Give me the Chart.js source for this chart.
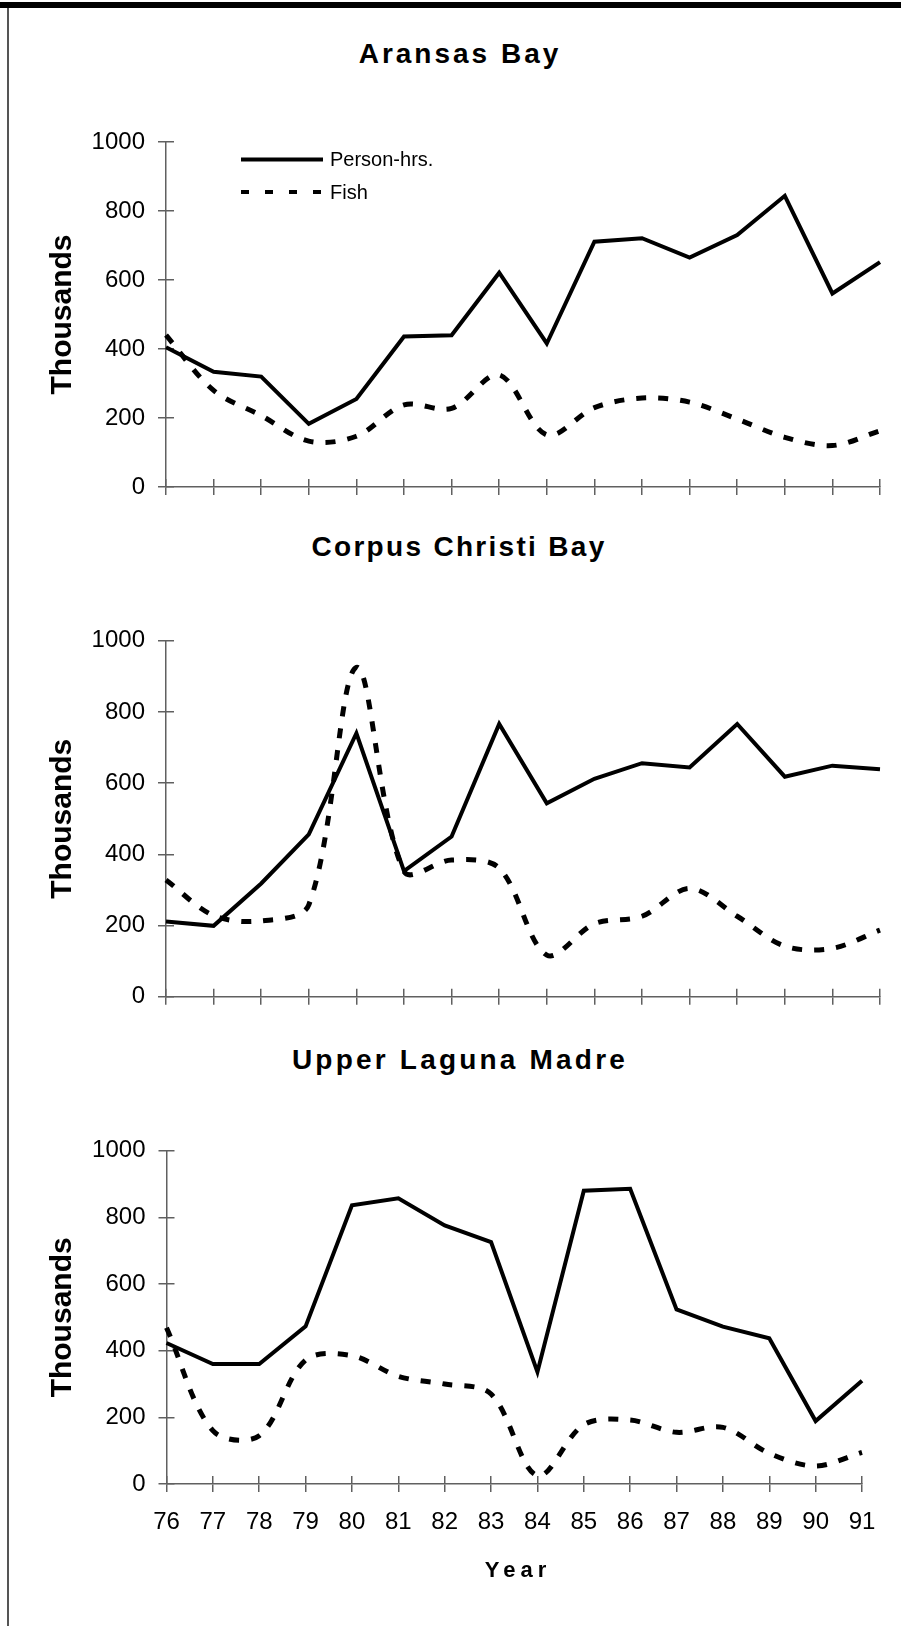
<!DOCTYPE html>
<html>
<head>
<meta charset="utf-8">
<script src="https://cdn.jsdelivr.net/npm/chart.js@4.4.1/dist/chart.umd.min.js"></script>
<style>
html, body { margin: 0; padding: 0; background: #fff; }
body { width: 901px; height: 1626px; position: relative; overflow: hidden; font-family: "Liberation Sans", Arial, sans-serif; }
.rule-top { position: absolute; left: 0; top: 2px; width: 901px; height: 6px; background: #000; }
.rule-left { position: absolute; left: 7px; top: 8px; width: 2px; height: 1618px; background: #555; }
.title { position: absolute; left: 0; width: 914px; text-align: center; font-weight: bold; font-size: 28px; line-height: 28px; color: #000; white-space: nowrap; }
.xtitle { position: absolute; left: 0; width: 1026px; text-align: center; font-weight: bold; font-size: 22px; line-height: 22px; letter-spacing: 5px; padding-left: 5px; color: #000; }
canvas { position: absolute; left: 0; }
</style>
</head>
<body>
<div class="rule-top"></div>
<div class="rule-left"></div>

<div class="title" style="top:40px; letter-spacing:3px; padding-left:3px;">Aransas Bay</div>
<canvas id="c1" width="901" height="420" style="top:100px"></canvas>

<div class="title" style="top:533px; letter-spacing:2.3px; padding-left:2px;">Corpus Christi Bay</div>
<canvas id="c2" width="901" height="520" style="top:520px"></canvas>

<div class="title" style="top:1046px; letter-spacing:3.2px; padding-left:3px;">Upper Laguna Madre</div>
<canvas id="c3" width="901" height="586" style="top:1040px"></canvas>
<div class="xtitle" style="top:1559px;">Year</div>

<script>
// years on the x axis
var years = ['76', '77', '78', '79', '80', '81', '82', '83', '84', '85', '86', '87', '88', '89', '90', '91']
var yTickValues = [0, 200, 400, 600, 800, 1000]

// thousands
var aransasHours = [405, 334, 320, 183, 255, 436, 440, 621, 416, 711, 721, 665, 730, 844, 561, 652]
var aransasFish  = [440, 280, 207, 133, 147, 238, 228, 325, 151, 230, 258, 246, 197, 144, 120, 163]

var corpusHours = [211, 199, 318, 456, 740, 353, 450, 766, 543, 612, 656, 644, 766, 618, 649, 639]
var corpusFish  = [328, 228, 213, 258, 925, 352, 384, 361, 117, 205, 226, 304, 226, 142, 136, 187]

var lagunaHours = [423, 360, 360, 473, 836, 857, 776, 726, 336, 880, 886, 524, 472, 437, 189, 310]
var lagunaFish  = [469, 160, 145, 372, 385, 323, 300, 270, 25, 178, 192, 155, 170, 92, 54, 95]

var AXIS = '#606060'
Chart.defaults.font.family = '"Liberation Sans", Arial, sans-serif'
Chart.defaults.color = '#000'

// legend drawn inside the plot, like the original
var plotLegend = {
  id: 'plotLegend',
  afterDatasetsDraw: function(chart) {
    var ctx = chart.ctx
    var area = chart.chartArea
    var rows = [17.5, 50]
    chart.data.datasets.forEach(function(ds, i) {
      var y = area.top + rows[i]
      var x0 = area.left + 75
      var x1 = area.left + 157
      ctx.save()
      ctx.strokeStyle = ds.borderColor
      ctx.lineWidth = 4
      ctx.setLineDash(ds.borderDash ? [8, 16] : [])
      ctx.beginPath()
      ctx.moveTo(x0, y)
      ctx.lineTo(x1, y)
      ctx.stroke()
      ctx.setLineDash([])
      ctx.fillStyle = '#000'
      ctx.font = '20px "Liberation Sans", Arial, sans-serif'
      ctx.textBaseline = 'middle'
      ctx.fillText(ds.label, x1 + 7, y + 1)
      ctx.restore()
    })
  }
}

function setTicks(scale) {
  scale.ticks = yTickValues.map(function(v) { return {value: v} })
}

var createChart = function(id, hours, fish, pad, xHeight, withLegend) {
  return new Chart(document.getElementById(id), {
    type: 'line',
    data: {
      labels: years,
      datasets: [{
        label: 'Person-hrs.',
        data: hours,
        borderColor: '#000',
        borderWidth: 4,
        borderJoinStyle: 'miter',
        pointRadius: 0,
        tension: 0,
        fill: false,
        clip: false
      }, {
        label: 'Fish',
        data: fish,
        borderColor: '#000',
        borderWidth: 5,
        borderDash: [10, 12],
        pointRadius: 0,
        tension: 0.33,
        fill: false,
        clip: false
      }]
    },
    plugins: withLegend ? [plotLegend] : [],
    options: {
      responsive: false,
      animation: false,
      events: [],
      layout: { padding: pad },
      plugins: {
        legend: { display: false },
        tooltip: { enabled: false }
      },
      scales: {
        x: {
          type: 'category',
          position: 'bottom',
          weight: 1,
          offset: false,
          border: { display: true, color: AXIS, width: 1.5 },
          grid: { drawOnChartArea: false, drawTicks: true, tickLength: 8, color: AXIS, lineWidth: 1.5 },
          ticks: { display: xHeight > 0, autoSkip: false, maxRotation: 0, padding: 16, font: { size: 24 } },
          afterFit: function(s) { s.height = xHeight }
        },
        x2: {
          type: 'category',
          position: 'bottom',
          weight: 0,
          offset: false,
          border: { display: false },
          grid: { drawOnChartArea: false, drawTicks: true, tickLength: -8, color: AXIS, lineWidth: 1.5 },
          ticks: { display: false, autoSkip: false },
          afterFit: function(s) { s.height = 0 }
        },
        y: {
          type: 'linear',
          position: 'left',
          weight: 1,
          min: 0,
          max: 1000,
          afterBuildTicks: setTicks,
          border: { display: true, color: AXIS, width: 1.5 },
          grid: { drawOnChartArea: false, drawTicks: true, tickLength: 8, color: AXIS, lineWidth: 1.5 },
          ticks: {
            padding: 13,
            font: { size: 24 },
            callback: function(v) { return String(v) }
          },
          title: {
            display: true,
            text: 'Thousands',
            font: { size: 30, weight: 'bold', lineHeight: 1 },
            padding: { top: 27.5, bottom: 0 }
          },
          afterFit: function(s) { s.width = 146 }
        },
        y2: {
          type: 'linear',
          position: 'left',
          weight: 0,
          min: 0,
          max: 1000,
          afterBuildTicks: setTicks,
          border: { display: false },
          grid: { drawOnChartArea: false, drawTicks: true, tickLength: -8, color: AXIS, lineWidth: 1.5 },
          ticks: { display: false },
          afterFit: function(s) { s.width = 0 }
        }
      }
    }
  })
}

createChart('c1', aransasHours, aransasFish, { left: 20, right: 21, top: 42, bottom: 33 }, 0, true)
createChart('c2', corpusHours, corpusFish, { left: 20, right: 21, top: 120.7, bottom: 43.3 }, 0, false)
createChart('c3', lagunaHours, lagunaFish, { left: 20.5, right: 39, top: 110.7, bottom: 82 }, 60, false)
</script>
</body>
</html>
